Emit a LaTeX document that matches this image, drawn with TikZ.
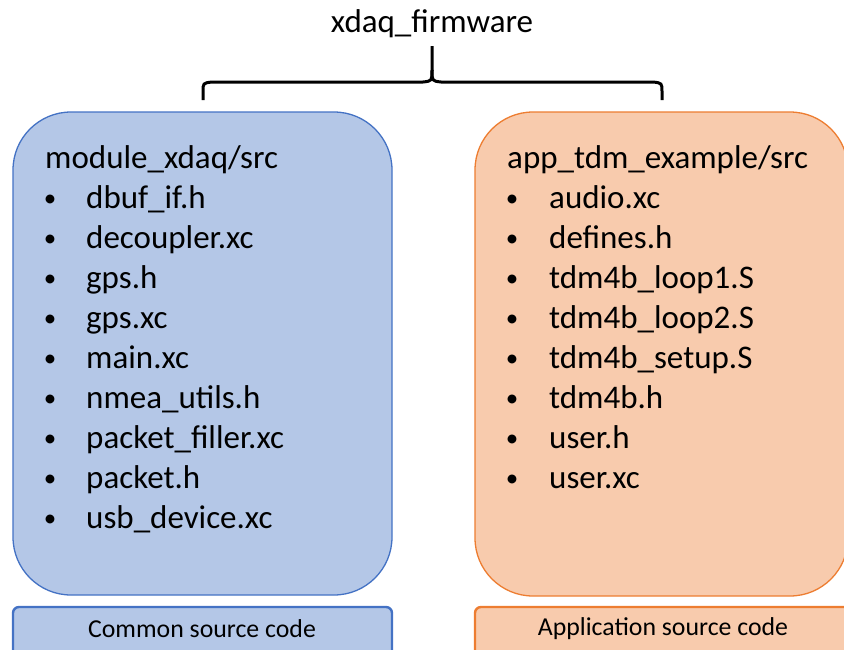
\documentclass[tikz,border=0pt]{standalone}
\usepackage{fontspec}
\setmainfont{Carlito}
\definecolor{bluefill}{HTML}{B4C7E7}
\definecolor{blueline}{HTML}{4472C4}
\definecolor{orangefill}{HTML}{F8CBAD}
\definecolor{orangeline}{HTML}{ED7D31}
\tikzset{
  folder/.style={rounded corners=58pt, line width=1.3pt},
  tag/.style={rounded corners=6pt, line width=2.4pt},
  listtext/.style={anchor=base west, inner sep=0pt, font=\fontsize{33}{39}\selectfont},
  bulletmark/.style={anchor=base, inner sep=0pt, font=\fontsize{25}{30}\selectfont},
  tagtext/.style={inner sep=0pt, font=\fontsize{25.8}{30}\selectfont},
}
\begin{document}
\begin{tikzpicture}[x=1pt,y=-1pt]
\useasboundingbox (0,0) rectangle (844,649);
\clip (0,0) rectangle (844,649);

% title and brace
\node[inner sep=0pt, anchor=base, font=\fontsize{33}{39}\selectfont] (title) at (432,32) {xdaq\_firmware};
\draw[line width=3pt] (203,100) -- (203,92) .. controls (203,83) .. (212,82)
  -- (423,82) .. controls (432,81) .. (432,70) -- (432,46);
\draw[line width=3pt] (432,70) .. controls (432,81) .. (441,82)
  -- (653,82) .. controls (662,83) .. (662,92) -- (662,100);

% folder panels
\draw[folder, fill=bluefill, draw=blueline] (13,112) rectangle (392,595);
\draw[folder, fill=orangefill, draw=orangeline] (475,112) rectangle (848,596);

% module_xdaq/src listing
\node[listtext] (lhead) at (45,168) {module\_xdaq/src};
\foreach \name [count=\i] in {dbuf\_if.h, decoupler.xc, gps.h, gps.xc, main.xc,
    nmea\_utils.h, packet\_filler.xc, packet.h, usb\_device.xc} {
  \node[bulletmark] (lb\i) at (50,166+40*\i) {\textbullet};
  \node[listtext] (li\i) at (86,168+40*\i) {\name};
}

% app_tdm_example/src listing
\node[listtext] (rhead) at (507,168) {app\_tdm\_example/src};
\foreach \name [count=\i] in {audio.xc, defines.h, tdm4b\_loop1.S, tdm4b\_loop2.S,
    tdm4b\_setup.S, tdm4b.h, user.h, user.xc} {
  \node[bulletmark] (rb\i) at (512,166+40*\i) {\textbullet};
  \node[listtext] (ri\i) at (549,168+40*\i) {\name};
}

% captions
\draw[tag, fill=bluefill, draw=blueline] (13,607) rectangle (392,660);
\node[tagtext] (lcap) at (202,629) {Common source code};
\draw[tag, fill=orangefill, draw=orangeline] (475,607) rectangle (850,660);
\node[tagtext] (rcap) at (663,629) {Application source code};
\end{tikzpicture}
\end{document}
